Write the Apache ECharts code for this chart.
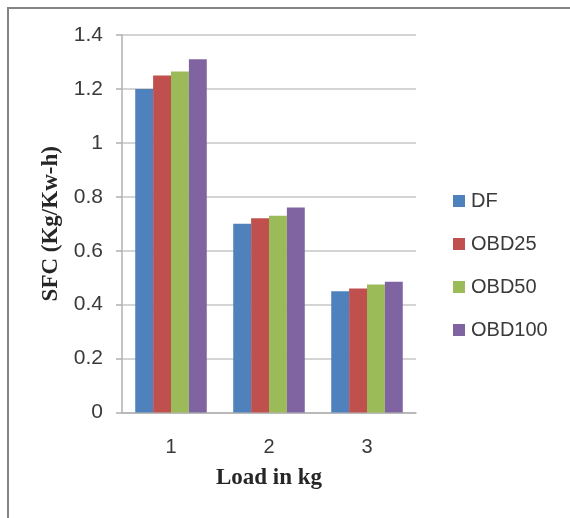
<!DOCTYPE html>
<html>
<head>
<meta charset="utf-8">
<script src="https://cdn.jsdelivr.net/npm/echarts@6/dist/echarts.min.js"></script>
<style>
  html, body { margin: 0; padding: 0; background: #ffffff; }
  #chart { width: 570px; height: 518px; }
</style>
</head>
<body>
<div id="chart"></div>
<script>
// Specific fuel consumption at each engine load, per fuel blend
const loads = ['1', '2', '3'];
const seriesNames = ['DF', 'OBD25', 'OBD50', 'OBD100'];
const dfValues = [1.2, 0.7, 0.45];
const obd25Values = [1.25, 0.72, 0.46];
const obd50Values = [1.265, 0.73, 0.475];
const obd100Values = [1.31, 0.76, 0.485];
const seriesColors = ['#4F81BD', '#C0504D', '#9BBB59', '#8064A2'];

const valueSets = [dfValues, obd25Values, obd50Values, obd100Values];

const chart = echarts.init(document.getElementById('chart'), null, { renderer: 'canvas' });

const labelFont = 'Liberation Sans, Arial, sans-serif';
const titleFont = 'Liberation Serif, Times New Roman, serif';

chart.setOption({
  animation: false,
  backgroundColor: '#ffffff',
  // frame of the chart area: only its top and left edges fall inside the canvas
  graphic: [
    {
      type: 'line',
      shape: { x1: 7, y1: 8, x2: 570, y2: 8 },
      style: { stroke: '#858585', lineWidth: 2 },
      silent: true
    },
    {
      type: 'line',
      shape: { x1: 8, y1: 7, x2: 8, y2: 518 },
      style: { stroke: '#858585', lineWidth: 2 },
      silent: true
    }
  ],
  grid: { left: 122, top: 35, width: 294, height: 377.5 },
  legend: {
    orient: 'vertical',
    left: 453,
    top: 191,
    padding: 0,
    itemWidth: 12,
    itemHeight: 12,
    itemGap: 23,
    icon: 'rect',
    data: seriesNames,
    textStyle: { fontFamily: labelFont, fontSize: 20, color: '#3a3a3a', padding: [0, 0, 0, 1] }
  },
  xAxis: {
    type: 'category',
    data: loads,
    name: 'Load in kg',
    nameLocation: 'middle',
    nameGap: 54,
    nameTextStyle: { fontFamily: titleFont, fontWeight: 'bold', fontSize: 23, color: '#262626' },
    axisLine: { lineStyle: { color: '#b0b0b0', width: 1.5 } },
    axisTick: { show: false },
    axisLabel: { margin: 25, fontFamily: labelFont, fontSize: 20, color: '#3a3a3a' }
  },
  yAxis: {
    type: 'value',
    min: 0,
    max: 1.4,
    interval: 0.2,
    name: 'SFC (Kg/Kw-h)',
    nameLocation: 'middle',
    nameGap: 58,
    nameTextStyle: { fontFamily: titleFont, fontWeight: 'bold', fontSize: 23, color: '#262626' },
    axisLine: { show: true, lineStyle: { color: '#b0b0b0', width: 1.5 } },
    axisTick: { show: true, length: 6, lineStyle: { color: '#b0b0b0', width: 1.5 } },
    splitLine: { lineStyle: { color: '#d4d4d4', width: 2 } },
    axisLabel: {
      margin: 19,
      fontFamily: labelFont,
      fontSize: 21,
      color: '#3a3a3a',
      formatter: v => String(Math.round(v * 10) / 10)
    }
  },
  series: seriesNames.map((name, i) => ({
    name: name,
    type: 'bar',
    data: valueSets[i],
    barGap: '0%',
    barCategoryGap: '27%',
    itemStyle: { color: seriesColors[i] }
  }))
});
</script>
</body>
</html>
